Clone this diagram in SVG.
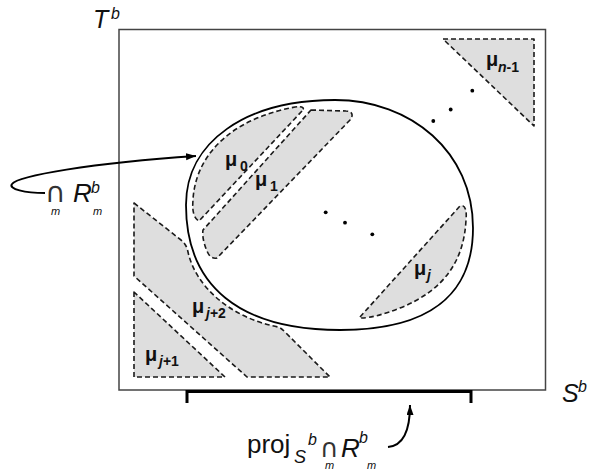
<svg xmlns="http://www.w3.org/2000/svg" width="594" height="471" viewBox="0 0 594 471">
<style>
.reg{fill:#dedede;stroke:#1a1a1a;stroke-width:1.6;stroke-dasharray:5 3;stroke-linejoin:round}
.mu{font-family:"Liberation Sans",Arial,sans-serif;font-weight:bold;font-size:20px;fill:#111}
.sub{font-family:"Liberation Sans",Arial,sans-serif;font-weight:bold;font-size:14px;fill:#111}
.lbl{font-family:"Liberation Sans",Arial,sans-serif;fill:#111}
.cap{font-family:"DejaVu Sans",sans-serif;fill:#333}
.it{font-style:italic}
.dot{fill:#000}
.conn{fill:none;stroke:#000;stroke-width:2}
</style>
<defs>
<marker id="ah" markerUnits="userSpaceOnUse" markerWidth="11" markerHeight="8" refX="10" refY="3.5" orient="auto">
<path d="M0,0 L10,3.5 L0,7 Z" fill="#000"/>
</marker>
</defs>
<rect width="594" height="471" fill="#fff"/>
<g id="space">
<rect x="119" y="29.5" width="426.5" height="360.5" fill="none" stroke="#444" stroke-width="1.5"/>
<text class="lbl it" x="93" y="28" font-size="25">T</text>
<text class="lbl it" x="111" y="19" font-size="16">b</text>
<text class="lbl it" x="562" y="402" font-size="25">S</text>
<text class="lbl it" x="578" y="392" font-size="16">b</text>
</g>
<g id="region-n-1">
<path class="reg" d="M443,39 L534,39 L534,126 Z"/>
<text class="mu" x="486" y="66">μ</text>
<text class="sub" x="498" y="72"><tspan class="it">n</tspan>-1</text>
</g>
<g id="intersection">
<path d="M186,205 C186,142 245.6,100 335,100 C411,100 473,152 473,228 C473,294 430,330 340,330 C239.9,330 186,286.3 186,205 Z" fill="none" stroke="#000" stroke-width="1.8"/>
</g>
<g id="region-0">
<path class="reg" d="M302,111 L199,221 C194,218 192,212 193,200 C195,160 225,120 295,107 C303,106 305,108 302,111 Z"/>
<text class="mu" x="225" y="166">μ</text>
<text class="sub" x="240" y="171">0</text>
</g>
<g id="region-1">
<path class="reg" d="M311,110 L346,111 C352,111 354,115 350,120 L217,258 C212,259 209,256 207,251 C204,244 202,236 203,230 Z"/>
<text class="mu" x="255" y="186">μ</text>
<text class="sub" x="270" y="191">1</text>
</g>
<g id="region-j">
<path class="reg" d="M360,317 L460,206 C465,204 467,210 466,220 C464,260 445,290 400,308 C385,314 370,318 362,318 Z"/>
<text class="mu" x="414" y="275">μ</text>
<text class="sub it" x="427" y="280">j</text>
</g>
<g id="region-j+2">
<path class="reg" d="M134,203 L181,240 C185,243 187,247 188,252 C196,288 232,318 278,327 C281,328 283,330 286,333 L330,377 L247,377 L134,276 Z"/>
<text class="mu" x="192" y="313">μ</text>
<text class="sub" x="206" y="318"><tspan class="it">j</tspan>+2</text>
</g>
<g id="region-j+1">
<path class="reg" d="M134,292 L134,377 L225,377 Z"/>
<text class="mu" x="145" y="361">μ</text>
<text class="sub" x="159" y="366"><tspan class="it">j</tspan>+1</text>
</g>
<g id="ellipsis-dots">
<circle class="dot" cx="325.7" cy="212.3" r="1.9"/>
<circle class="dot" cx="345" cy="222.7" r="1.9"/>
<circle class="dot" cx="372.3" cy="234.3" r="1.9"/>
<circle class="dot" cx="433.3" cy="121" r="1.9"/>
<circle class="dot" cx="450.7" cy="109.5" r="1.9"/>
<circle class="dot" cx="472.3" cy="90.7" r="1.9"/>
</g>
<g id="projection">
<line x1="187" y1="391.5" x2="471" y2="391.5" stroke="#000" stroke-width="3"/>
<line x1="187" y1="390" x2="187" y2="403" stroke="#000" stroke-width="3"/>
<line x1="471" y1="390" x2="471" y2="403" stroke="#000" stroke-width="3"/>
</g>
<g id="label-intersection">
<text class="cap" x="45" y="202" font-size="28">∩</text>
<text class="lbl it" x="51" y="215" font-size="11">m</text>
<text class="lbl it" x="73" y="202" font-size="26">R</text>
<text class="lbl it" x="91" y="193" font-size="16">b</text>
<text class="lbl it" x="93" y="215" font-size="11">m</text>
</g>
<g id="label-projection">
<text class="lbl" x="247" y="453" font-size="26">proj</text>
<text class="lbl it" x="294" y="463" font-size="18">S</text>
<text class="lbl it" x="308" y="445" font-size="16">b</text>
<text class="cap" x="320" y="457" font-size="26">∩</text>
<text class="lbl it" x="325" y="469" font-size="11">m</text>
<text class="lbl it" x="341" y="457" font-size="26">R</text>
<text class="lbl it" x="359" y="443" font-size="16">b</text>
<text class="lbl it" x="367" y="469" font-size="11">m</text>
</g>
<g id="connectors">
<path class="conn" d="M45,193 C25,193 8,189 12,184 C18,176 90,163 196,156" marker-end="url(#ah)"/>
<path class="conn" d="M388,447 C400,446 410,436 410,405" marker-end="url(#ah)"/>
</g>
</svg>
